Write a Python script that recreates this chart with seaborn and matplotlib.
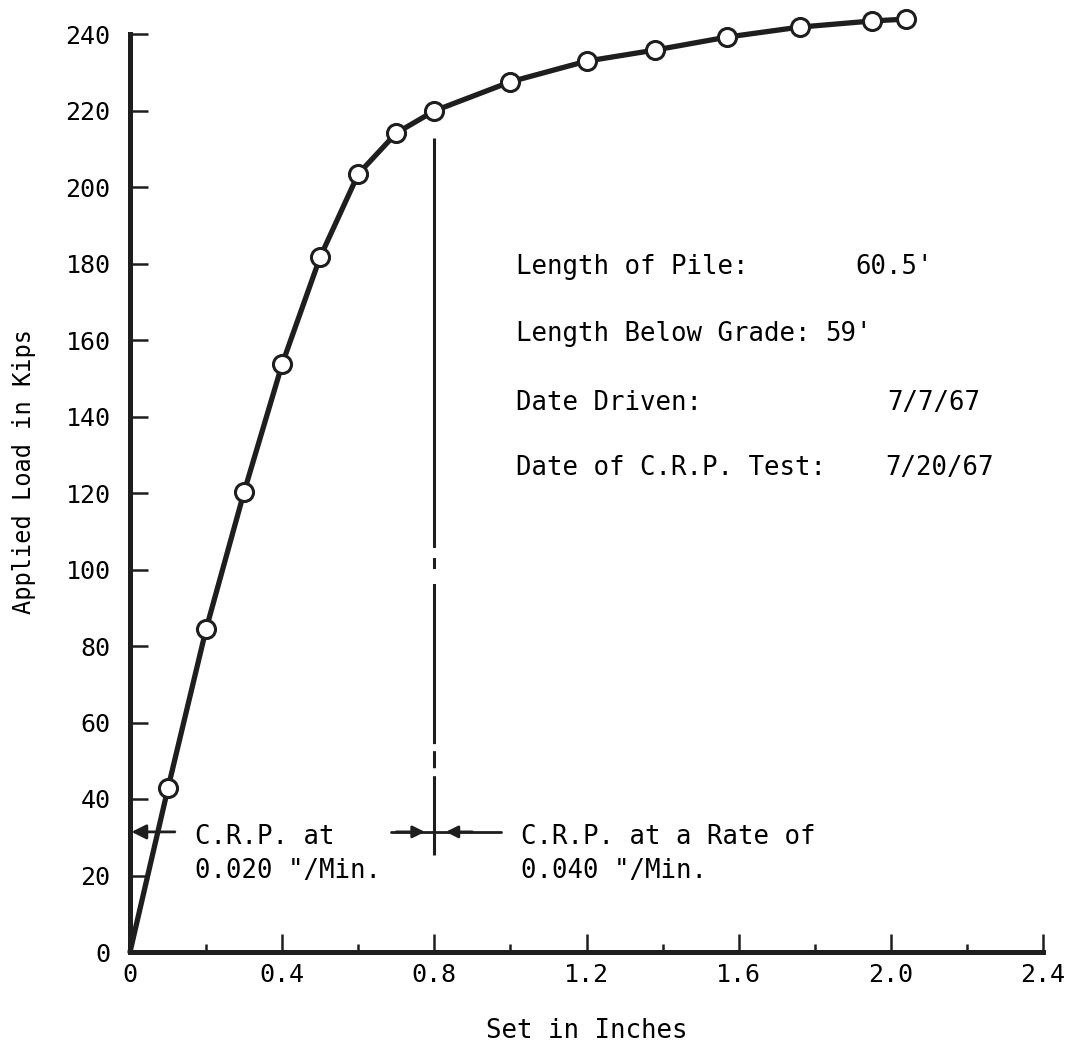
import matplotlib
matplotlib.use("Agg")
import matplotlib.pyplot as plt
import seaborn as sns
import pandas as pd

# Load-set readings from the constant-rate-of-penetration test
set_in = [0.0, 0.1, 0.2, 0.3, 0.4, 0.5, 0.6, 0.7, 0.8, 1.0, 1.2, 1.38, 1.57, 1.76, 1.95, 2.04]
load_kips = [0.0, 42.9, 84.4, 120.3, 153.7, 181.7, 203.4, 214.1, 219.9, 227.5, 232.9,
             235.8, 239.2, 241.8, 243.4, 243.9]

x_major = [0.0, 0.4, 0.8, 1.2, 1.6, 2.0, 2.4]
x_major_labels = ["0", "0.4", "0.8", "1.2", "1.6", "2.0", "2.4"]
x_minor = [0.2, 0.6, 1.0, 1.4, 1.8, 2.2]
y_major = list(range(0, 241, 20))

# Rate change at 0.8 in. of set
rate_change_set = 0.8
rate_change_span = [212.8, 25.4]
arrow_load = 31.4

info_labels = ["Length of Pile:", "Length Below Grade:", "Date Driven:", "Date of C.R.P. Test:"]
info_values = ["60.5'", "59'", "7/7/67", "7/20/67"]
info_rows = [179.0, 161.5, 143.5, 126.5]
info_value_x = [1.907, 1.828, 1.99, 1.985]

sns.set_theme(style="ticks")
plt.rcParams["font.family"] = ["DejaVu Sans Mono", "DejaVu Sans"]

ink = "#1e1e1e"
fig = plt.figure(figsize=(10.71, 10.51), dpi=100)
ax = fig.add_axes([130 / 1071, 1 - 952 / 1051, 913 / 1071, 918 / 1051])

df = pd.DataFrame({"set": set_in, "load": load_kips})
sns.lineplot(data=df, x="set", y="load", ax=ax, color=ink, lw=3.8, sort=False,
             marker="o", markersize=13, markerfacecolor="white", markeredgecolor=ink,
             markeredgewidth=2.2, markevery=list(range(1, len(set_in))), clip_on=False,
             zorder=5)

# Dash-dot marker of the rate change
ax.plot([rate_change_set, rate_change_set], rate_change_span, color=ink, lw=2.2,
        linestyle=(0, (134, 3.3, 3.6, 4.9, 52.4, 2.3, 5.6, 2.6, 100, 10)),
        dash_capstyle="butt", solid_capstyle="butt", zorder=3)

# Arrows for the two penetration rates
arrow_kw = dict(arrowstyle="-|>", color=ink, lw=2.0, mutation_scale=22,
                shrinkA=0, shrinkB=0)
ax.annotate("", xy=(0.004, arrow_load), xytext=(0.118, arrow_load),
            arrowprops=arrow_kw, annotation_clip=False)
ax.plot([0.687, 0.976], [arrow_load, arrow_load], color=ink, lw=2.0, zorder=3)
ax.annotate("", xy=(0.775, arrow_load), xytext=(0.70, arrow_load),
            arrowprops=dict(arrow_kw, mutation_scale=18))
ax.annotate("", xy=(0.83, arrow_load), xytext=(0.90, arrow_load),
            arrowprops=dict(arrow_kw, mutation_scale=18))

txt_kw = dict(fontsize=18.5, color="black", va="center", ha="left", linespacing=1.4)
ax.text(0.17, 25.6, 'C.R.P. at\n0.020 "/Min.', **txt_kw)
ax.text(1.028, 25.6, 'C.R.P. at a Rate of\n0.040 "/Min.', **txt_kw)

for lab, val, yr, vx in zip(info_labels, info_values, info_rows, info_value_x):
    ax.text(1.015, yr, lab, **txt_kw)
    ax.text(vx, yr, val, **txt_kw)

ax.set_xlim(0, 2.4)
ax.set_ylim(0, 240)
ax.set_xticks(x_major)
ax.set_xticklabels(x_major_labels)
ax.set_xticks(x_minor, minor=True)
ax.set_yticks(y_major)
ax.set_yticklabels([str(v) for v in y_major])

ax.tick_params(axis="both", which="major", direction="in", length=13, width=1.8,
               color=ink, labelsize=18, labelcolor="black")
ax.tick_params(axis="x", which="minor", direction="in", length=6, width=1.8, color=ink)
ax.tick_params(axis="y", pad=14)
ax.tick_params(axis="x", pad=8)

sns.despine(ax=ax)
for side in ("left", "bottom"):
    ax.spines[side].set_linewidth(3.6)
    ax.spines[side].set_color(ink)

ax.set_xlabel("Set in Inches", fontsize=18.5, color="black")
ax.set_ylabel("Applied Load in Kips", fontsize=17, color="black")
ax.xaxis.set_label_coords(0.5, -0.072)
ax.yaxis.set_label_coords(-0.103, 0.523)
ax.grid(False)

fig.savefig("out.png", dpi=100, facecolor="white")
